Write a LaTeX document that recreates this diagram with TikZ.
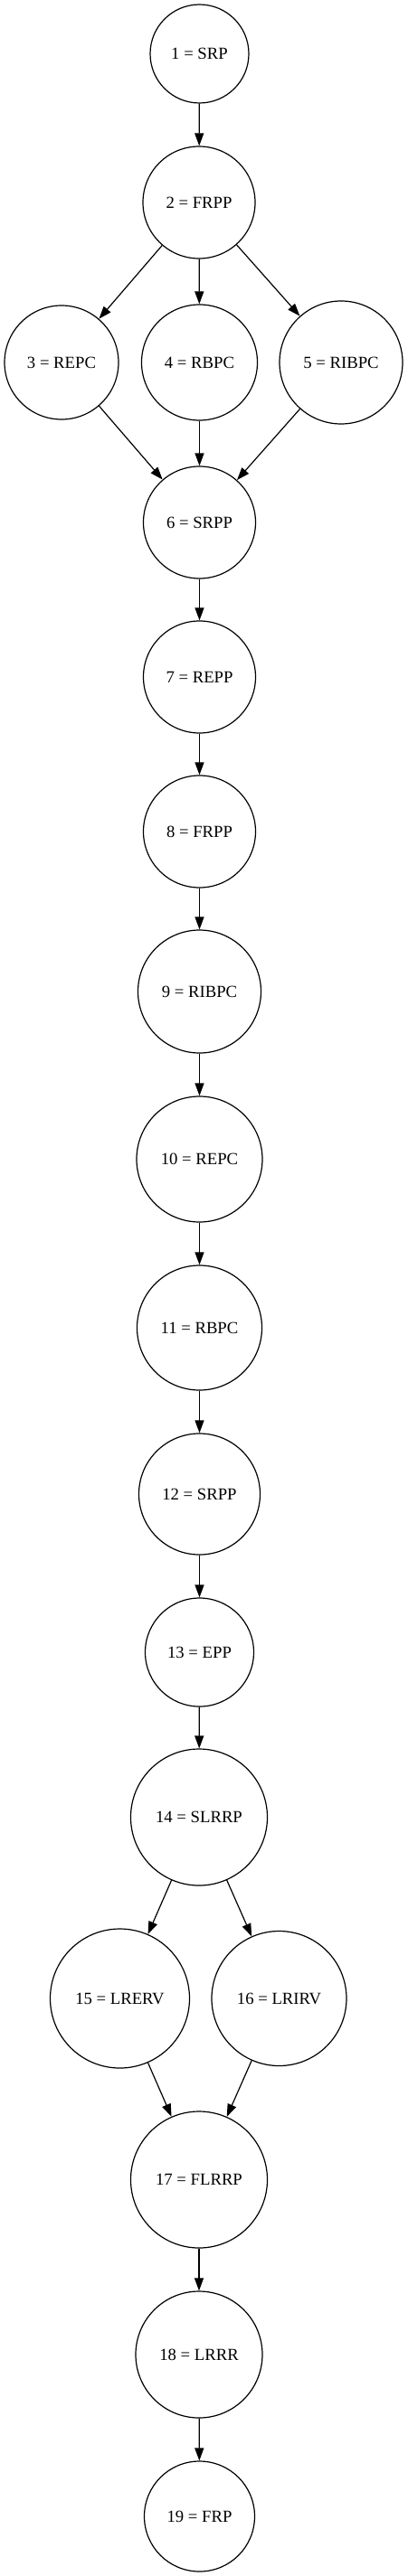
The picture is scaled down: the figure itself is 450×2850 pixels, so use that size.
\documentclass[tikz,border=0pt]{standalone}
\usepackage{fontspec}
\setmainfont{Liberation Serif}
\usetikzlibrary{arrows.meta}
\begin{document}
\begin{tikzpicture}[x=1pt,y=-1pt,
  state/.style={draw=black,circle,line width=1.2pt,inner sep=0pt,font=\fontsize{18.7}{22}\selectfont},
  edge/.style={line width=1.2pt,-{Triangle[length=14pt,width=10pt]}}]
\useasboundingbox (0,0) rectangle (450,2850);
\node[state,minimum size=109pt] (n1) at (220.5,59.5) {1 = SRP};
\node[state,minimum size=124pt] (n2) at (220,224) {2 = FRPP};
\node[state,minimum size=126pt] (n3) at (68,401) {3 = REPC};
\node[state,minimum size=128pt] (n4) at (220.5,401) {4 = RBPC};
\node[state,minimum size=136pt] (n5) at (377,401) {5 = RIBPC};
\node[state,minimum size=124pt] (n6) at (220.5,578) {6 = SRPP};
\node[state,minimum size=124pt] (n7) at (220.5,749) {7 = REPP};
\node[state,minimum size=124pt] (n8) at (220.5,920) {8 = FRPP};
\node[state,minimum size=136pt] (n9) at (220.5,1097) {9 = RIBPC};
\node[state,minimum size=139pt] (n10) at (220.5,1282.5) {10 = REPC};
\node[state,minimum size=138pt] (n11) at (220.5,1469) {11 = RBPC};
\node[state,minimum size=134pt] (n12) at (220.5,1653) {12 = SRPP};
\node[state,minimum size=120pt] (n13) at (220.5,1828) {13 = EPP};
\node[state,minimum size=151pt] (n14) at (220,2010.5) {14 = SLRRP};
\node[state,minimum size=154pt] (n15) at (132.5,2211) {15 = LRERV};
\node[state,minimum size=149pt] (n16) at (308.5,2211) {16 = LRIRV};
\node[state,minimum size=151pt] (n17) at (220,2411.5) {17 = FLRRP};
\node[state,minimum size=140pt] (n18) at (220,2605) {18 = LRRR};
\node[state,minimum size=122pt] (n19) at (220.5,2784) {19 = FRP};
\draw[edge] (n1) -- (n2);
\draw[edge] (n2) -- (n3);
\draw[edge] (n2) -- (n4);
\draw[edge] (n2) -- (n5);
\draw[edge] (n3) -- (n6);
\draw[edge] (n4) -- (n6);
\draw[edge] (n5) -- (n6);
\draw[edge] (n6) -- (n7);
\draw[edge] (n7) -- (n8);
\draw[edge] (n8) -- (n9);
\draw[edge] (n9) -- (n10);
\draw[edge] (n10) -- (n11);
\draw[edge] (n11) -- (n12);
\draw[edge] (n12) -- (n13);
\draw[edge] (n13) -- (n14);
\draw[edge] (n14) -- (n15);
\draw[edge] (n14) -- (n16);
\draw[edge] (n15) -- (n17);
\draw[edge] (n16) -- (n17);
\draw[edge] (n17) -- (n18);
\draw[edge] (n18) -- (n19);
\end{tikzpicture}
\end{document}
